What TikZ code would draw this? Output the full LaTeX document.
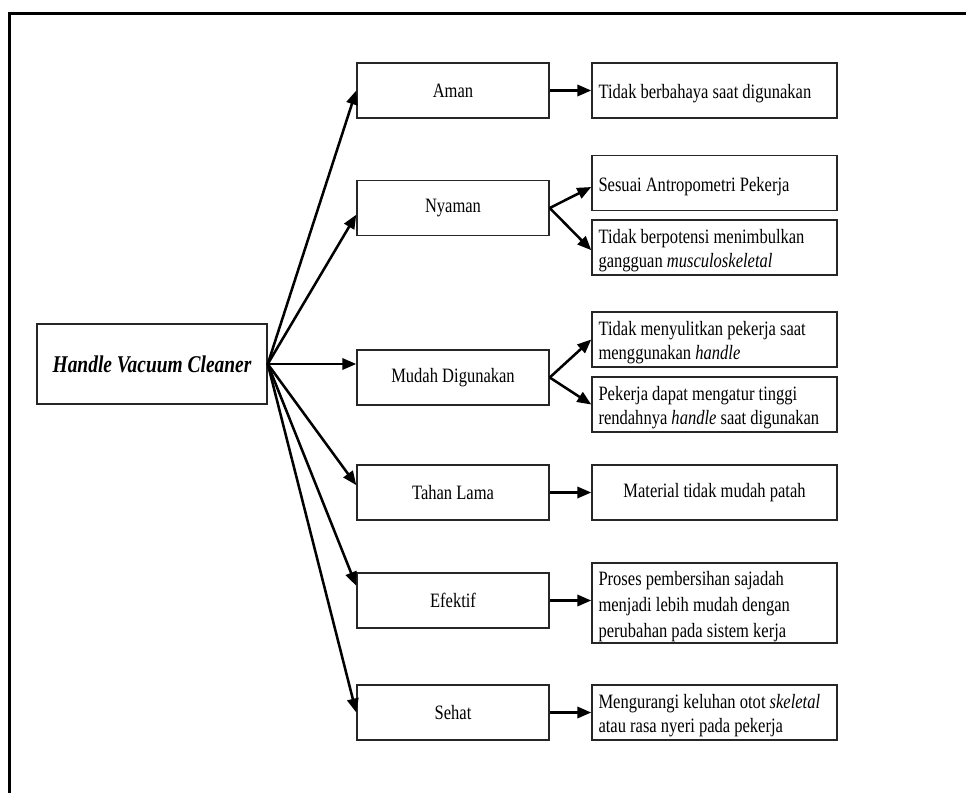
\documentclass[tikz,border=0pt]{standalone}
\usepackage{fontspec}
\setmainfont{Liberation Serif}[FakeStretch=0.81]
\usetikzlibrary{arrows.meta}
\begin{document}
\begin{tikzpicture}[x=0.75pt,y=-0.75pt,
  box/.style={draw=black!85, line width=1.1pt, inner sep=0pt},
  mbox/.style={box, minimum width=144pt, minimum height=41.25pt, font=\fontsize{15.3pt}{18pt}\selectfont},
  rbox/.style={box, minimum width=183.75pt, minimum height=41.25pt},
  rtext/.style={anchor=west, xshift=5.25pt, yshift=-2.5pt, inner sep=0pt, align=left, font=\fontsize{15.3pt}{18pt}\selectfont},
  arr/.style={line width=1.9pt, -{Triangle[length=10.5pt,width=8.5pt]}},
  frameline/.style={line width=2.25pt, line join=miter}]
\useasboundingbox (0,0) rectangle (966,792);
\coordinate (ftl) at (9,14);
\coordinate (ftr) at (970,14);
\coordinate (fbl) at (9,796);
\draw[frameline] (ftr) -- (ftl) -- (fbl);

% root
\node[box, minimum width=172.5pt, minimum height=60pt,
      font=\fontsize{18pt}{20pt}\selectfont\bfseries\itshape] (root) at (152,364) {Handle Vacuum Cleaner};

% middle column
\node[mbox] (aman) at (453,90.5) {Aman};
\node[mbox] (nyaman) at (453,208) {Nyaman};
\node[mbox] (mudah) at (453,377.5) {Mudah Digunakan};
\node[mbox] (tahan) at (453,492.5) {Tahan Lama};
\node[mbox] (efektif) at (453,600.5) {Efektif};
\node[mbox] (sehat) at (453,712.5) {Sehat};

% right column
\node[rbox] (r1) at (714.5,90.5) {};
\node[rtext] (r1t) at (r1.west) {Tidak berbahaya saat digunakan};
\node[rbox] (r2) at (714.5,183) {};
\node[rtext] (r2t) at (r2.west) {Sesuai Antropometri Pekerja};
\node[rbox] (r3) at (714.5,247.5) {};
\node[rtext] (r3t) at (r3.west) {Tidak berpotensi menimbulkan\\gangguan \textit{musculoskeletal}};
\node[rbox] (r4) at (714.5,339.5) {};
\node[rtext] (r4t) at (r4.west) {Tidak menyulitkan pekerja saat\\menggunakan \textit{handle}};
\node[rbox] (r5) at (714.5,404.5) {};
\node[rtext] (r5t) at (r5.west) {Pekerja dapat mengatur tinggi\\rendahnya \textit{handle} saat digunakan};
\node[rbox, font=\fontsize{15.3pt}{18pt}\selectfont] (r6) at (714.5,492.5) {Material tidak mudah patah};
\node[rbox, minimum height=60pt] (r7) at (714.5,603) {};
\node[rtext, font=\fontsize{15.3pt}{19.5pt}\selectfont] (r7t) at (r7.west) {Proses pembersihan sajadah\\menjadi lebih mudah dengan\\perubahan pada sistem kerja};
\node[rbox] (r8) at (714.5,712.5) {};
\node[rtext] (r8t) at (r8.west) {Mengurangi keluhan otot \textit{skeletal}\\atau rasa nyeri pada pekerja};

% arrows from root
\draw[arr] (root.east) -- (aman.west);
\draw[arr] (root.east) -- ([yshift=-5pt]nyaman.west);
\draw[arr] (root.east) -- (root.east -| mudah.west);
\draw[arr] (root.east) -- ([yshift=5.5pt]tahan.west);
\draw[arr] (root.east) -- ([yshift=11pt]efektif.west);
\draw[arr] (root.east) -- (sehat.west);

% second level arrows
\draw[arr] (aman.east) -- (r1.west);
\draw[arr] (nyaman.east) -- ([yshift=-3pt]r2.west);
\draw[arr] (nyaman.east) -- ([yshift=-2pt]r3.west);
\draw[arr] (mudah.east) -- (r4.west);
\draw[arr] (mudah.east) -- (r5.west);
\draw[arr] (tahan.east) -- (r6.west);
\draw[arr] (efektif.east) -- (efektif.east -| r7.west);
\draw[arr] (sehat.east) -- (r8.west);
\end{tikzpicture}
\end{document}
